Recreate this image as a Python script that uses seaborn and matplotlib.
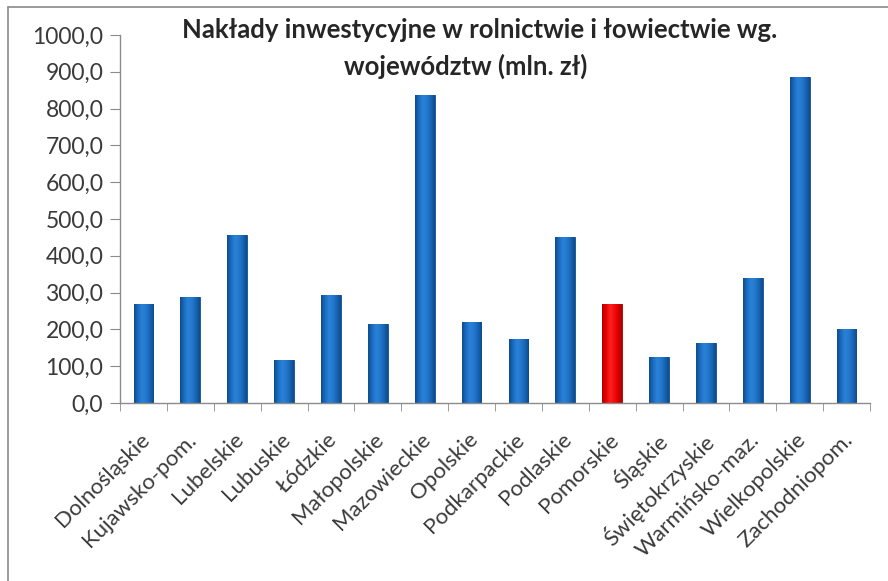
import matplotlib
matplotlib.use("Agg")
import matplotlib.pyplot as plt
import matplotlib.transforms as mtransforms
import seaborn as sns
import pandas as pd
import numpy as np
from matplotlib.ticker import FuncFormatter, FixedLocator
from matplotlib.lines import Line2D
from matplotlib.colors import LinearSegmentedColormap

categories = ["Dolnośląskie", "Kujawsko-pom.", "Lubelskie", "Lubuskie", "Łódzkie",
              "Małopolskie", "Mazowieckie", "Opolskie", "Podkarpackie", "Podlaskie",
              "Pomorskie", "Śląskie", "Świętokrzyskie", "Warmińsko-maz.",
              "Wielkopolskie", "Zachodniopom."]
values = [268, 287, 456, 116, 293, 214, 837, 220, 175, 450, 268, 125, 164, 341, 887, 202]
highlight = "Pomorskie"
y_ticks = [0, 100, 200, 300, 400, 500, 600, 700, 800, 900, 1000]
title_lines = ["Nakłady inwestycyjne w rolnictwie i łowiectwie wg.", "województw (mln. zł)"]

df = pd.DataFrame({"woj": categories, "val": values})
blue = "#1b6ec2"
red = "#f00000"
palette = {c: (red if c == highlight else blue) for c in categories}

sns.set_style("white")
plt.rcParams["font.family"] = ["Lato", "DejaVu Sans"]

fig = plt.figure(figsize=(8.88, 5.81), dpi=100)
ax = fig.add_axes([120/888, 1-403/581, 750/888, 368/581])

sns.barplot(data=df, x="woj", y="val", hue="woj", palette=palette, dodge=False,
            width=0.42, legend=False, ax=ax, saturation=1,
            edgecolor="#0f4f8f", linewidth=0.6)

blue_cmap = LinearSegmentedColormap.from_list(
    "b", ["#0e4a8a", "#1a6cc0", "#2a82d8", "#2479cd", "#1766b6", "#0e4a8a"])
red_cmap = LinearSegmentedColormap.from_list(
    "r", ["#b00000", "#e80000", "#ff2020", "#f41010", "#dc0000", "#b00000"])
grad = np.linspace(0, 1, 64).reshape(1, -1)
for p, c in zip(ax.patches, categories):
    x0, y0 = p.get_x(), p.get_y()
    w, h = p.get_width(), p.get_height()
    if c == highlight:
        p.set_edgecolor("#a00000")
    cm = red_cmap if c == highlight else blue_cmap
    im = ax.imshow(grad, cmap=cm, extent=[x0, x0 + w, y0, y0 + h], aspect="auto",
                   origin="lower", zorder=p.get_zorder() + 0.1, interpolation="bicubic")
    im.set_clip_path(p)

ax.set_xlim(-0.5, len(categories) - 0.5)
ax.set_ylim(0, 1000)
ax.set_yticks(y_ticks)
ax.yaxis.set_major_formatter(FuncFormatter(lambda v, _: f"{v:.1f}".replace(".", ",")))
ax.set_xlabel("")
ax.set_ylabel("")

for s in ["top", "right"]:
    ax.spines[s].set_visible(False)
for s in ["left", "bottom"]:
    ax.spines[s].set_color("#8c8c8c")
    ax.spines[s].set_linewidth(1.0)

ax.tick_params(axis="y", which="major", direction="out", length=7, color="#8c8c8c",
               labelsize=16.5, labelcolor="#3a3a3a", pad=5, left=True)
ax.set_xticks(range(len(categories)))
ax.set_xticklabels(categories, rotation=45, ha="right", rotation_mode="anchor",
                   fontsize=16, color="#3a3a3a")
ax.tick_params(axis="x", which="major", length=0, pad=19)
ax.xaxis.set_minor_locator(FixedLocator([i - 0.5 for i in range(len(categories) + 1)]))
ax.tick_params(axis="x", which="minor", direction="out", length=6, color="#8c8c8c", bottom=True)
shift = mtransforms.ScaledTranslation(-4/100, 0, fig.dpi_scale_trans)
for lab in ax.get_xticklabels():
    lab.set_transform(lab.get_transform() + shift)

fig.text(480/888, 1-30/581, title_lines[0], ha="center", va="center", fontsize=18.5,
         fontweight="bold", color="#262626")
fig.text(466/888, 1-66/581, title_lines[1], ha="center", va="center", fontsize=18.5,
         fontweight="bold", color="#262626")

fig.add_artist(Line2D([8/888, 8/888], [0, 1-7/581], transform=fig.transFigure,
                      color="#8a8a8a", lw=1.2))
fig.add_artist(Line2D([8/888, 1], [1-7/581, 1-7/581], transform=fig.transFigure,
                      color="#8a8a8a", lw=1.2))

fig.savefig("out.png", dpi=100)
